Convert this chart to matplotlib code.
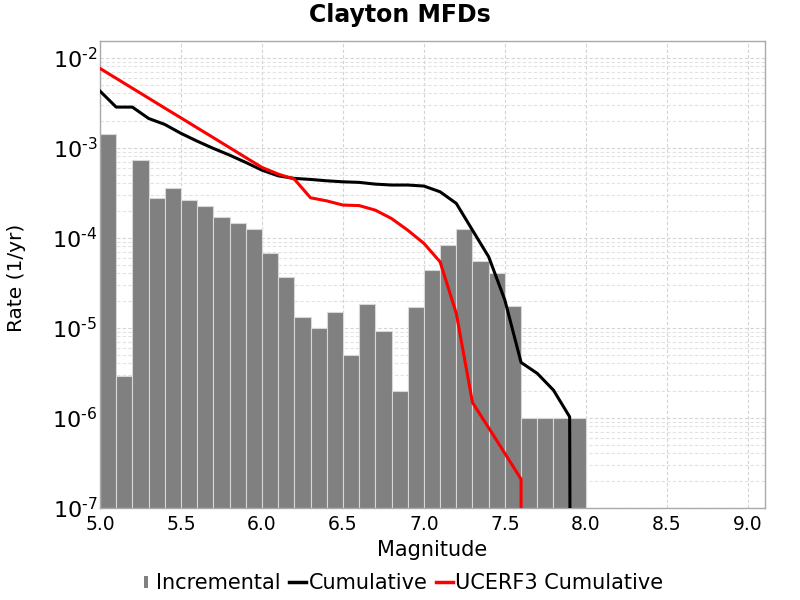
import numpy as np
import matplotlib
matplotlib.use("Agg")
import matplotlib.pyplot as plt
from matplotlib.ticker import LogLocator, MultipleLocator, NullFormatter, FuncFormatter
from matplotlib.lines import Line2D

# Incremental MFD (bin centers)
inc_mags = [5.05, 5.15, 5.25, 5.35, 5.45, 5.55, 5.65, 5.75, 5.85, 5.95,
            6.05, 6.15, 6.25, 6.35, 6.45, 6.55, 6.65, 6.75, 6.85, 6.95,
            7.05, 7.15, 7.25, 7.35, 7.45, 7.55, 7.65, 7.75, 7.85, 7.95]
inc_rates = [1.40e-3, 2.9e-6, 7.2e-4, 2.73e-4, 3.52e-4, 2.61e-4, 2.22e-4, 1.70e-4, 1.44e-4, 1.25e-4,
             6.67e-5, 3.61e-5, 1.31e-5, 1.00e-5, 1.51e-5, 5.0e-6, 1.81e-5, 9.1e-6, 2.0e-6, 1.70e-5,
             4.33e-5, 8.26e-5, 1.25e-4, 5.44e-5, 4.04e-5, 1.72e-5, 1.0e-6, 1.0e-6, 1.0e-6, 1.0e-6]

# Cumulative MFD
cum_mags = [5.0, 5.1, 5.2, 5.3, 5.4, 5.5, 5.6, 5.7, 5.8, 5.9,
            6.0, 6.1, 6.2, 6.3, 6.4, 6.5, 6.6, 6.7, 6.8, 6.9,
            7.0, 7.1, 7.2, 7.3, 7.4, 7.5, 7.6, 7.7, 7.8, 7.9, 8.0]
cum_rates = [4.25e-3, 2.82e-3, 2.82e-3, 2.11e-3, 1.81e-3, 1.44e-3, 1.18e-3, 9.8e-4, 8.26e-4, 6.85e-4,
             5.62e-4, 4.86e-4, 4.55e-4, 4.43e-4, 4.28e-4, 4.17e-4, 4.11e-4, 3.93e-4, 3.84e-4, 3.84e-4,
             3.74e-4, 3.23e-4, 2.40e-4, 1.21e-4, 6.12e-5, 2.02e-5, 4.1e-6, 3.1e-6, 2.02e-6, 1.02e-6, 1e-60]

# UCERF3 Cumulative MFD
u3_mags = [5.0, 5.1, 5.2, 5.3, 5.4, 5.5, 5.6, 5.7, 5.8, 5.9,
           6.0, 6.1, 6.2, 6.3, 6.4, 6.5, 6.6, 6.7, 6.8, 6.9,
           7.0, 7.1, 7.2, 7.3, 7.4, 7.5, 7.6, 7.7]
u3_rates = [7.59e-3, 5.89e-3, 4.57e-3, 3.55e-3, 2.75e-3, 2.14e-3, 1.66e-3, 1.29e-3, 1.0e-3, 7.76e-4,
            6.03e-4, 5.08e-4, 4.47e-4, 2.77e-4, 2.56e-4, 2.30e-4, 2.27e-4, 2.02e-4, 1.63e-4, 1.21e-4,
            8.63e-5, 5.38e-5, 1.44e-5, 1.47e-6, 7.7e-7, 4.0e-7, 2.07e-7, 1e-300]

series_names = ["Incremental", "Cumulative", "UCERF3 Cumulative"]

fig = plt.figure(figsize=(8, 6), dpi=100)
ax = fig.add_axes([0.125, 0.154, 0.831, 0.7785])

ax.set_yscale("log")
ax.bar(inc_mags, inc_rates, width=0.1, color="#808080", edgecolor="#d8d8d8",
       linewidth=0.8, zorder=2)
ax.plot(cum_mags, cum_rates, color="black", lw=2.2, zorder=3)
ax.plot(u3_mags, u3_rates, color="#ff0000", lw=2.2, zorder=4)

ax.set_xlim(5.0, 9.105)
ax.set_ylim(1e-7, 1.55e-2)

ax.xaxis.set_major_locator(MultipleLocator(0.5))
ax.yaxis.set_major_locator(LogLocator(base=10, numticks=20))
ax.yaxis.set_minor_locator(LogLocator(base=10, subs=np.arange(2, 10), numticks=20))
ax.yaxis.set_minor_formatter(NullFormatter())


def pow_fmt(v, pos):
    e = int(round(np.log10(v)))
    sign = r"\text{-}" if e < 0 else ""
    return r"$\mathdefault{10^{%s%d}}$" % (sign, abs(e))


ax.yaxis.set_major_formatter(FuncFormatter(pow_fmt))

ax.grid(True, which="major", axis="both", color="#d4d4d4", linestyle=(0, (3, 2)), lw=0.8, zorder=0)
ax.grid(True, which="minor", axis="y", color="#e2e2e2", linestyle=(0, (3, 2)), lw=0.8, zorder=0)
ax.set_axisbelow(True)

ax.tick_params(axis="both", which="both", length=0)
ax.tick_params(axis="x", labelsize=13.5, pad=5)
ax.tick_params(axis="y", labelsize=16, pad=2)

for s in ax.spines.values():
    s.set_color("#aaaaaa")
    s.set_linewidth(1)

ax.set_xlabel("Magnitude", fontsize=15)
ax.xaxis.set_label_coords(0.5, -0.070)
fig.text(17 / 800, 1 - 278 / 600, "Rate (1/yr)", rotation=90, fontsize=14.5,
         ha="center", va="center")
fig.text(0.5, 1 - 21.7 / 600, "Clayton MFDs", fontsize=17, fontweight="bold",
         ha="center", va="baseline")

rect_marker = [(-0.22, -0.5), (0.22, -0.5), (0.22, 0.5), (-0.22, 0.5), (-0.22, -0.5)]
handles = [
    Line2D([0], [0], marker=rect_marker, color="none", markerfacecolor="#808080",
           markeredgecolor="#808080", markersize=8, markeredgewidth=0),
    Line2D([0], [0], color="black", lw=2.5),
    Line2D([0], [0], color="#ff0000", lw=2.5),
]
fig.legend(handles, series_names,
           loc="center", bbox_to_anchor=(0.5, 0.028), ncol=3, frameon=False,
           fontsize=15, handlelength=0.82, handletextpad=0.1, columnspacing=0.4,
           borderaxespad=0, borderpad=0)

fig.savefig("out.png", dpi=100)
